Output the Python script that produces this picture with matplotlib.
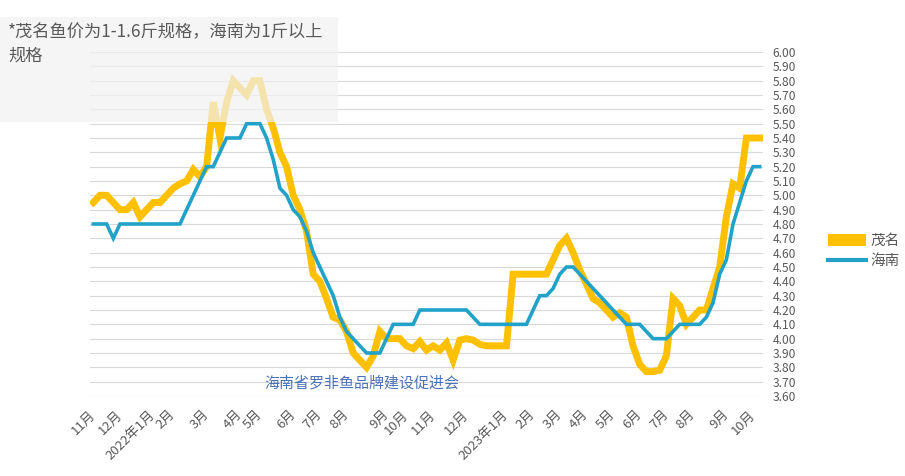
import matplotlib
matplotlib.use("Agg")
import matplotlib.pyplot as plt
from matplotlib.patches import Rectangle
from matplotlib.lines import Line2D
from matplotlib.patches import Patch

plt.rcParams['font.family'] = ['Noto Sans CJK SC', 'DejaVu Sans']

# ---------------- data ----------------
maoming = [4.95, 5.00, 5.00, 4.95, 4.90, 4.90, 4.95, 4.85, 4.90, 4.95,
           4.95, 5.00, 5.05, 5.08, 5.10, 5.18, 5.13, 5.20, 5.65, 5.40,
           5.65, 5.80, 5.75, 5.70, 5.80, 5.80, 5.60, 5.47, 5.30, 5.20,
           5.00, 4.90, 4.75, 4.45, 4.40, 4.28, 4.15, 4.13, 4.05, 3.90,
           3.85, 3.80, 3.88, 4.05, 4.00, 4.00, 4.00, 3.95, 3.93, 3.98,
           3.92, 3.95, 3.92, 3.97, 3.85, 3.99, 4.00, 3.99, 3.96, 3.95,
           3.95, 3.95, 3.95, 4.45, 4.45, 4.45, 4.45, 4.45, 4.45, 4.55,
           4.65, 4.70, 4.60, 4.48, 4.38, 4.28, 4.25, 4.20, 4.15, 4.18,
           4.15, 3.95, 3.82, 3.77, 3.77, 3.78, 3.88, 4.28, 4.23, 4.10,
           4.15, 4.20, 4.20, 4.35, 4.50, 4.85, 5.08, 5.05, 5.40, 5.40,
           5.40]

hainan = [4.80, 4.80, 4.80, 4.70, 4.80, 4.80, 4.80, 4.80, 4.80, 4.80,
          4.80, 4.80, 4.80, 4.80, 4.90, 5.00, 5.10, 5.20, 5.20, 5.30,
          5.40, 5.40, 5.40, 5.50, 5.50, 5.50, 5.40, 5.25, 5.05, 5.00,
          4.90, 4.85, 4.75, 4.60, 4.50, 4.40, 4.30, 4.15, 4.05, 4.00,
          3.95, 3.90, 3.90, 3.90, 4.00, 4.10, 4.10, 4.10, 4.10, 4.20,
          4.20, 4.20, 4.20, 4.20, 4.20, 4.20, 4.20, 4.15, 4.10, 4.10,
          4.10, 4.10, 4.10, 4.10, 4.10, 4.10, 4.20, 4.30, 4.30, 4.35,
          4.45, 4.50, 4.50, 4.45, 4.40, 4.35, 4.30, 4.25, 4.20, 4.15,
          4.10, 4.10, 4.10, 4.05, 4.00, 4.00, 4.00, 4.05, 4.10, 4.10,
          4.10, 4.10, 4.15, 4.25, 4.45, 4.55, 4.80, 4.95, 5.10, 5.20,
          5.20]

month_labels = ['11月', '12月', '2022年1月', '2月', '3月', '4月', '5月', '6月',
                '7月', '8月', '9月', '10月', '11月', '12月', '2023年1月', '2月',
                '3月', '4月', '5月', '6月', '7月', '8月', '9月', '10月']
month_pos = [0, 4, 9, 12, 17, 22, 25, 30, 34, 38, 44, 47, 51, 56, 62, 66,
             70, 74, 78, 82, 86, 90, 95, 99]

yticks = [3.6 + 0.1 * k for k in range(25)]

note = "*茂名鱼价为1-1.6斤规格，海南为1斤以上\n规格"
watermark = "海南省罗非鱼品牌建设促进会"

YELLOW = '#FFC000'
BLUE = '#21A3C9'
GRAY_TXT = '#595959'

# ---------------- figure ----------------
W, H = 905, 476
fig = plt.figure(figsize=(W / 100, H / 100), dpi=100)
ax = fig.add_axes([90 / W, 80 / H, 673 / W, 344 / H])

x = list(range(len(maoming)))
ax.plot(x, maoming, color=YELLOW, lw=5.0, solid_joinstyle='miter', zorder=3)
ax.plot(x, hainan, color=BLUE, lw=2.6, solid_joinstyle='miter', zorder=4)

ax.set_xlim(-0.5, len(maoming) - 0.5)
ax.set_ylim(3.6, 6.0)
ax.set_yticks(yticks)
ax.set_yticklabels([f"{v:.2f}" for v in yticks])
ax.yaxis.tick_right()
ax.tick_params(axis='y', length=0, pad=7, labelsize=8.7, labelcolor=GRAY_TXT)
ax.grid(axis='y', color='#d9d9d9', lw=0.8, zorder=0)
ax.set_axisbelow(True)
for s in ax.spines.values():
    s.set_visible(False)

ax.set_xticks(month_pos)
ax.set_xticklabels(month_labels, rotation=45, ha='right', va='center',
                   rotation_mode='anchor')
ax.tick_params(axis='x', length=0, pad=12, labelsize=9.5, labelcolor=GRAY_TXT)

# watermark
fig.text(362 / W, 1 - 383 / H, watermark, ha='center', va='center',
         fontsize=10.8, color='#4a72b8')

# note box (semi-transparent, on top)
fig.patches.append(Rectangle((0, 1 - 122 / H), 338 / W, 105 / H,
                             transform=fig.transFigure, facecolor='#f2f2f2',
                             alpha=0.72, edgecolor='none', zorder=10))
fig.text(8 / W, 1 - 23 / H, note, ha='left', va='top', fontsize=12.4,
         color=GRAY_TXT, linespacing=1.4, zorder=11)

# legend
handles = [Patch(facecolor=YELLOW, edgecolor='none'),
           Line2D([0], [0], color=BLUE, lw=3)]
fig.legend(handles, ['茂名', '海南'], loc='center left',
           bbox_to_anchor=(815 / W, 1 - 251 / H), frameon=False,
           fontsize=10.5, labelcolor=GRAY_TXT, handlelength=2.6,
           handleheight=0.9, handletextpad=0.3, labelspacing=0.45)

fig.savefig('out.png', dpi=100)
